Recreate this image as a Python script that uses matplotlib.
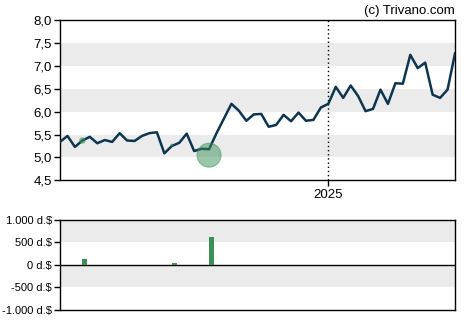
import pandas as pd
import numpy as np
import matplotlib
import matplotlib.pyplot as plt
from matplotlib.ticker import FuncFormatter
matplotlib.use('Agg')

plt.rcParams['font.family'] = ['Liberation Sans', 'DejaVu Sans']

# weekly closing prices
dates = pd.date_range('2024-04-24', periods=54, freq='7D')
price = [5.34, 5.47, 5.23, 5.37, 5.45, 5.31, 5.38, 5.34, 5.53, 5.37,
         5.36, 5.47, 5.53, 5.55, 5.09, 5.25, 5.32, 5.52, 5.14, 5.19,
         5.18, 5.53, 5.85, 6.17, 6.02, 5.80, 5.94, 5.95, 5.67, 5.71,
         5.93, 5.79, 5.98, 5.80, 5.82, 6.09, 6.17, 6.54, 6.30, 6.57,
         6.34, 6.01, 6.06, 6.48, 6.17, 6.62, 6.61, 7.24, 6.95, 7.07,
         6.37, 6.30, 6.48, 7.27]

# insider trades (thousand $)
trade_idx = [3, 15, 20]
trade_price = [5.37, 5.27, 5.05]
trade_value = [138, 51, 616]

line_col = '#0c3550'
band_col = '#ebebeb'
green = '#3a9158'

fig = plt.figure(figsize=(4.7, 3.25), dpi=100)
ax = fig.add_axes([0.1277, 0.445, 0.8404, 0.4935])
ax2 = fig.add_axes([0.1277, 0.0462, 0.8404, 0.2769])

# main price chart
for lo in [5.0, 6.0, 7.0]:
    ax.axhspan(lo, lo + 0.5, color=band_col, zorder=0, lw=0)
ax.plot(dates, price, color=line_col, lw=1.8, zorder=3)
tdates = dates[trade_idx]
sizes = [(v / 616 * 17.3) ** 2 for v in trade_value]
ax.scatter(tdates, trade_price, s=sizes, color=green, alpha=0.5, zorder=4, lw=0.8, edgecolors=green)
ax.set_xlim(dates[0], dates[-1])
ax.set_ylim(4.5, 8.0)
ax.set_yticks(np.arange(4.5, 8.01, 0.5))
ax.yaxis.set_major_formatter(FuncFormatter(lambda v, p: f'{v:.1f}'.replace('.', ',')))
y2025 = pd.Timestamp('2025-01-01')
ax.axvline(y2025, color='black', ls=(0, (1, 2)), lw=1, zorder=2)
ax.set_xticks([y2025])
ax.set_xticklabels(['2025'])
ax.tick_params(labelsize=9.5, length=4, width=1, color='black', pad=2)
for s in ax.spines.values():
    s.set_linewidth(1)
ax.text(1.0, 1.02, '(c) Trivano.com', transform=ax.transAxes, ha='right', va='bottom', fontsize=9.5)

# volume chart
ax2.axhspan(500, 1000, color=band_col, zorder=0, lw=0)
ax2.axhspan(-500, 0, color=band_col, zorder=0, lw=0)
ax2.bar(tdates, trade_value, width=4.5, align='edge', color=green, zorder=3)
ax2.axhline(0, color='black', lw=1, zorder=2)
ax2.set_xlim(dates[0], dates[-1])
ax2.set_ylim(-1000, 1000)
ax2.set_yticks([-1000, -500, 0, 500, 1000])
ax2.yaxis.set_major_formatter(FuncFormatter(lambda v, p: f'{int(v):,} d.$'.replace(',', '.')))
ax2.set_xticks([])
ax2.tick_params(labelsize=8, length=4, width=1, pad=2)
for s in ax2.spines.values():
    s.set_linewidth(1)

fig.savefig('out.png', dpi=100)
